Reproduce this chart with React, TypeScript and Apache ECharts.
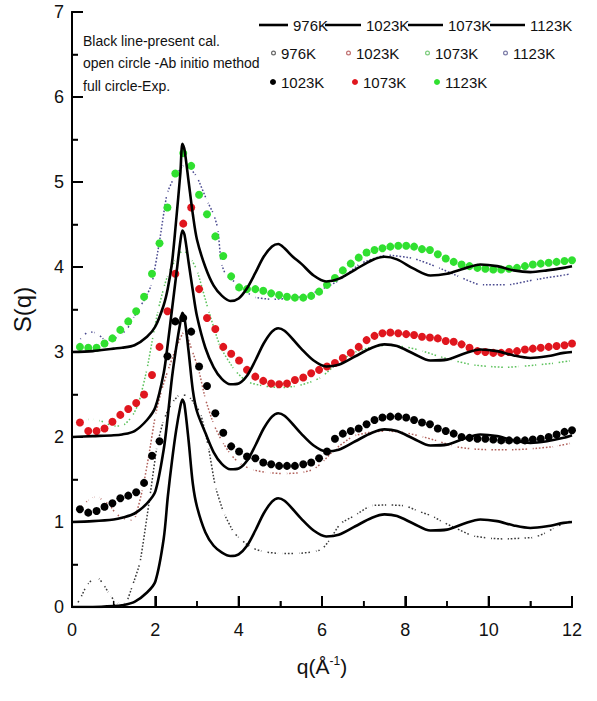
import React, { useEffect, useRef } from "react";
import * as echarts from "echarts";

// ---- calculated S(q) (black solid lines) ----
const qCalc = [0, 0.5, 1.0, 1.2, 1.5, 1.8, 2.0, 2.2, 2.3, 2.4, 2.5, 2.6, 2.65, 2.7, 2.8, 2.9, 3.0, 3.2, 3.4, 3.6, 3.8, 4.0, 4.2, 4.4, 4.6, 4.8, 4.95, 5.1, 5.3, 5.5, 5.8, 6.1, 6.4, 6.8, 7.2, 7.5, 7.8, 8.2, 8.6, 9.0, 9.4, 9.8, 10.2, 10.6, 11.0, 11.4, 11.8, 12.0];
const calc976 = [0, 0, 0.01, 0.02, 0.06, 0.17, 0.3, 0.8, 1.3, 1.72, 2.08, 2.36, 2.44, 2.38, 1.95, 1.45, 1.18, 0.88, 0.72, 0.64, 0.6, 0.62, 0.72, 0.9, 1.1, 1.24, 1.28, 1.25, 1.15, 1.04, 0.9, 0.83, 0.85, 0.95, 1.05, 1.09, 1.07, 0.98, 0.9, 0.91, 0.98, 1.03, 1.01, 0.96, 0.93, 0.95, 0.99, 1.0];
const calc1023 = [1.0, 1.01, 1.03, 1.05, 1.1, 1.22, 1.36, 1.85, 2.25, 2.7, 3.05, 3.35, 3.46, 3.4, 3.0, 2.55, 2.3, 2.05, 1.82, 1.68, 1.62, 1.63, 1.72, 1.9, 2.1, 2.24, 2.28, 2.25, 2.15, 2.04, 1.9, 1.83, 1.85, 1.95, 2.05, 2.09, 2.07, 1.98, 1.9, 1.91, 1.98, 2.03, 2.01, 1.96, 1.93, 1.95, 1.99, 2.02];
const calc1073 = [2.0, 2.01, 2.02, 2.03, 2.07, 2.2, 2.35, 2.75, 3.1, 3.5, 3.9, 4.3, 4.43, 4.38, 4.05, 3.72, 3.42, 3.05, 2.82, 2.68, 2.62, 2.63, 2.72, 2.9, 3.1, 3.24, 3.28, 3.25, 3.15, 3.04, 2.9, 2.83, 2.85, 2.95, 3.05, 3.09, 3.07, 2.98, 2.9, 2.91, 2.98, 3.03, 3.01, 2.96, 2.93, 2.95, 2.99, 3.0];
const calc1123 = [3.0, 3.01, 3.04, 3.05, 3.08, 3.18, 3.3, 3.55, 3.75, 4.05, 4.55, 5.1, 5.45, 5.38, 5.0, 4.62, 4.32, 4.0, 3.78, 3.66, 3.6, 3.63, 3.75, 3.93, 4.12, 4.24, 4.27, 4.22, 4.12, 4.04, 3.9, 3.83, 3.86, 3.97, 4.08, 4.12, 4.09, 3.98, 3.9, 3.92, 3.98, 4.03, 4.01, 3.96, 3.94, 3.96, 3.99, 4.01];

// ---- ab initio S(q) (open circles) ----
const qAi976 = [0.1, 0.2, 0.35, 0.5, 0.6, 0.75, 0.9, 1.05, 1.2, 1.31, 1.45, 1.63, 1.87, 2.04, 2.2, 2.4, 2.6, 2.8, 3.08, 3.27, 3.44, 3.64, 3.88, 4.04, 4.3, 4.6, 5.0, 5.4, 5.8, 6.0, 6.2, 6.44, 6.8, 7.16, 7.6, 8.0, 8.3, 8.64, 8.9, 9.2, 9.6, 10.0, 10.4, 10.8, 11.1, 11.4, 11.6, 11.8, 12.0];
const ai976 = [0.02, 0.1, 0.25, 0.33, 0.35, 0.27, 0.15, 0.06, 0.04, 0.06, 0.25, 0.52, 1.3, 1.89, 2.2, 2.4, 2.5, 2.48, 2.28, 1.89, 1.42, 1.11, 0.88, 0.8, 0.7, 0.65, 0.63, 0.63, 0.65, 0.68, 0.8, 0.98, 1.08, 1.19, 1.2, 1.19, 1.13, 1.07, 1.0, 0.93, 0.84, 0.81, 0.8, 0.81, 0.82, 0.88, 0.94, 0.98, 1.02];
const qAi1023 = [0.15, 0.3, 0.45, 0.6, 0.75, 0.9, 1.05, 1.2, 1.35, 1.5, 1.7, 1.85, 2.0, 2.15, 2.3, 2.5, 2.7, 2.88, 3.04, 3.2, 3.4, 3.6, 3.8, 4.0, 4.3, 4.7, 5.1, 5.5, 5.8, 6.0, 6.3, 6.75, 7.2, 7.56, 8.0, 8.36, 8.8, 9.16, 9.6, 10.0, 10.5, 11.0, 11.6, 12.0];
const ai1023 = [1.15, 1.22, 1.27, 1.3, 1.25, 1.2, 1.1, 1.05, 1.02, 1.03, 1.4, 1.8, 2.25, 2.55, 2.78, 3.05, 3.25, 3.02, 2.79, 2.45, 2.15, 1.95, 1.8, 1.7, 1.62, 1.58, 1.57, 1.58, 1.62, 1.7, 1.85, 2.01, 2.06, 2.07, 2.05, 2.01, 1.95, 1.89, 1.86, 1.85, 1.85, 1.86, 1.89, 1.93];
const qAi1073 = [0.15, 0.3, 0.45, 0.6, 0.8, 0.96, 1.2, 1.44, 1.6, 1.8, 1.95, 2.07, 2.2, 2.31, 2.5, 2.67, 2.85, 3.0, 3.27, 3.56, 3.9, 4.2, 4.6, 5.0, 5.4, 5.8, 6.0, 6.4, 6.75, 7.2, 7.56, 8.0, 8.36, 8.8, 9.16, 9.6, 10.0, 10.4, 10.77, 11.2, 11.6, 12.0];
const ai1073 = [2.18, 2.2, 2.21, 2.2, 2.17, 2.13, 2.13, 2.24, 2.4, 2.8, 3.2, 3.5, 3.75, 3.92, 4.1, 4.2, 4.1, 3.96, 3.5, 3.06, 2.79, 2.65, 2.6, 2.58, 2.6, 2.66, 2.71, 2.88, 2.99, 3.06, 3.08, 3.06, 3.02, 2.95, 2.9, 2.85, 2.83, 2.82, 2.83, 2.85, 2.87, 2.9];
const qAi1123 = [0.15, 0.25, 0.4, 0.6, 0.8, 1.0, 1.15, 1.31, 1.45, 1.63, 1.78, 1.92, 2.1, 2.28, 2.45, 2.72, 2.85, 3.0, 3.24, 3.4, 3.5, 3.58, 3.7, 3.95, 4.35, 4.8, 5.2, 5.6, 5.96, 6.44, 6.92, 7.56, 8.2, 8.76, 9.32, 9.8, 10.45, 11.1, 12.0];
const ai1123 = [3.12, 3.18, 3.24, 3.22, 3.14, 3.15, 3.2, 3.26, 3.38, 3.53, 3.65, 3.81, 4.3, 4.86, 5.05, 5.21, 5.15, 5.06, 4.78, 4.62, 4.45, 4.05, 3.9, 3.81, 3.65, 3.62, 3.63, 3.66, 3.73, 3.85, 4.04, 4.14, 4.1, 4.0, 3.88, 3.79, 3.79, 3.85, 3.92];

// ---- experimental S(q) (full circles) ----
const qExp = [0.19, 0.39, 0.59, 0.78, 0.97, 1.16, 1.35, 1.54, 1.73, 1.92, 2.1, 2.29, 2.48, 2.67, 2.86, 3.05, 3.24, 3.44, 3.63, 3.82, 4.01, 4.2, 4.4, 4.59, 4.78, 4.97, 5.16, 5.35, 5.55, 5.74, 5.93, 6.12, 6.31, 6.5, 6.69, 6.88, 7.07, 7.26, 7.45, 7.64, 7.83, 8.02, 8.21, 8.4, 8.59, 8.78, 8.97, 9.16, 9.35, 9.54, 9.73, 9.92, 10.11, 10.3, 10.49, 10.68, 10.87, 11.06, 11.25, 11.44, 11.63, 11.82, 12.0];
const exp1023 = [1.15, 1.11, 1.13, 1.18, 1.22, 1.28, 1.31, 1.35, 1.46, 1.78, 1.95, 2.95, 3.36, 3.4, 3.24, 2.83, 2.6, 2.28, 2.05, 1.89, 1.83, 1.77, 1.75, 1.7, 1.68, 1.66, 1.66, 1.66, 1.68, 1.7, 1.75, 1.83, 1.98, 2.04, 2.07, 2.1, 2.15, 2.2, 2.23, 2.24, 2.24, 2.23, 2.2, 2.17, 2.15, 2.1, 2.07, 2.04, 2.0, 1.99, 1.98, 1.98, 1.97, 1.96, 1.96, 1.96, 1.96, 1.97, 1.98, 2.0, 2.03, 2.06, 2.08];
const exp1073 = [2.17, 2.07, 2.07, 2.1, 2.18, 2.26, 2.33, 2.4, 2.5, 2.73, 3.06, 3.48, 3.92, 4.51, 4.7, 3.74, 3.4, 3.27, 3.06, 2.98, 2.9, 2.79, 2.71, 2.66, 2.63, 2.62, 2.63, 2.67, 2.7, 2.75, 2.79, 2.83, 2.87, 2.93, 2.99, 3.06, 3.14, 3.19, 3.22, 3.23, 3.22, 3.21, 3.2, 3.18, 3.17, 3.16, 3.13, 3.12, 3.09, 3.05, 3.01, 3.0, 2.99, 2.99, 3.0, 3.01, 3.03, 3.04, 3.05, 3.06, 3.07, 3.08, 3.1];
const exp1123 = [3.06, 3.05, 3.05, 3.1, 3.16, 3.26, 3.36, 3.48, 3.65, 3.92, 4.28, 4.7, 5.1, 5.34, 5.19, 4.85, 4.62, 4.36, 4.13, 3.89, 3.76, 3.74, 3.74, 3.72, 3.69, 3.67, 3.65, 3.64, 3.64, 3.66, 3.71, 3.79, 3.87, 3.96, 4.04, 4.11, 4.17, 4.2, 4.22, 4.24, 4.25, 4.25, 4.24, 4.21, 4.2, 4.15, 4.1, 4.06, 4.03, 4.01, 3.99, 3.98, 3.97, 3.97, 3.98, 3.99, 4.01, 4.03, 4.04, 4.05, 4.06, 4.07, 4.08];

// ---- tick values ----
const xTicks = [0, 2, 4, 6, 8, 10, 12];
const xMinorTicks = [1, 3, 5, 7, 9, 11];
const yTicks = [0, 1, 2, 3, 4, 5, 6, 7];
const yMinorTicks = [0.5, 1.5, 2.5, 3.5, 4.5, 5.5, 6.5];
const noteLines = ["Black line-present cal.", "open circle -Ab initio method", "full circle-Exp."];

const FONT = "'Liberation Sans', Arial, sans-serif";
const RING = "path://M0,5 A5,5 0 1,1 10,5 A5,5 0 1,1 0,5 Z M2.4,5 A2.6,2.6 0 1,0 7.6,5 A2.6,2.6 0 1,0 2.4,5 Z";

const zip = (xs: number[], ys: number[]) => xs.map((x, i) => [x, ys[i]]);

export default function App() {
  const ref = useRef<HTMLDivElement>(null);
  useEffect(() => {
    if (!ref.current) return;
    const chart = echarts.init(ref.current, null, { renderer: "svg" });

    const calcSeries = (name: string, ys: number[]) => ({
      name,
      type: "line",
      xAxisIndex: 0,
      yAxisIndex: 0,
      data: zip(qCalc, ys),
      smooth: 0.3,
      showSymbol: false,
      symbol: "none",
      color: "#000",
      lineStyle: { color: "#000", width: 2.6 },
      z: 5,
    });
    const aiSeries = (name: string, qs: number[], ys: number[], color: string) => ({
      name,
      type: "line",
      xAxisIndex: 0,
      yAxisIndex: 0,
      data: zip(qs, ys),
      smooth: 0.15,
      symbol: "emptyCircle",
      symbolSize: 3,
      showSymbol: true,
      color,
      itemStyle: { color: "#fff", borderColor: color, borderWidth: 0.9, opacity: 1 },
      lineStyle: { color, width: 1.5, type: [1.6, 1.8] },
      z: 3,
    });
    const expSeries = (name: string, ys: number[], color: string) => ({
      name,
      type: "scatter",
      xAxisIndex: 0,
      yAxisIndex: 0,
      data: zip(qExp, ys),
      symbol: "circle",
      symbolSize: 8,
      color,
      itemStyle: { color, opacity: 1 },
      z: 4,
    });
    // inward tick marks placed through the axes' own scales
    const tickSeries = (id: string, values: number[], horizontal: boolean, len: number, width: number) => ({
      id,
      type: "custom",
      xAxisIndex: 0,
      yAxisIndex: 0,
      silent: true,
      clip: false,
      z: 20,
      data: values.map((v) => (horizontal ? [v, yTicks[0]] : [xTicks[0], v])),
      renderItem: (_params: any, api: any) => {
        const p = api.coord([api.value(0), api.value(1)]);
        return {
          type: "line",
          shape: horizontal
            ? { x1: p[0], y1: p[1], x2: p[0], y2: p[1] - len }
            : { x1: p[0], y1: p[1], x2: p[0] + len, y2: p[1] },
          style: { stroke: "#000", lineWidth: width, fill: null },
        };
      },
    });

    const nameMap: Record<string, string> = {};
    const legendItem = (name: string, label: string, left: number, centerY: number, icon: string, w: number, h: number, gap: number, itemStyle: any) => {
      nameMap[name] = label;
      return {
        show: true,
        left,
        top: centerY - 8,
        padding: 0,
        orient: "horizontal",
        itemWidth: w,
        itemHeight: h,
        itemTextGap: gap,
        selectedMode: false,
        data: [{ name, icon, itemStyle }],
        formatter: (n: string) => nameMap[n],
        textStyle: { fontFamily: FONT, fontSize: 15, color: "#111", lineHeight: 16 },
      };
    };
    const lineIcon = { color: "#000", borderWidth: 0 };
    const fullIcon = (c: string) => ({ color: c, borderWidth: 0, opacity: 1 });

    const legends = [
      legendItem("c976", "976K", 259, 25, "rect", 29, 2.6, 1, lineIcon),
      legendItem("c1023", "1023K", 325, 25, "rect", 36, 2.6, 1, lineIcon),
      legendItem("c1073", "1073K", 408, 25, "rect", 35, 2.6, 1, lineIcon),
      legendItem("c1123", "1123K", 490, 25, "rect", 35, 2.6, 1, lineIcon),
      legendItem("a976", "976K", 271, 53, RING, 5, 5, 14, fullIcon("#666666")),
      legendItem("a1023", "1023K", 346, 53, RING, 5, 5, 16, fullIcon("#c07070")),
      legendItem("a1073", "1073K", 425, 53, RING, 5, 5, 18, fullIcon("#7ccc7c")),
      legendItem("a1123", "1123K", 503, 53, RING, 5, 5, 19, fullIcon("#7a7aa6")),
      legendItem("e1023", "1023K", 270, 82, "circle", 6, 7, 15, fullIcon("#000000")),
      legendItem("e1073", "1073K", 352, 82, "circle", 6, 7, 15, fullIcon("#e0161e")),
      legendItem("e1123", "1123K", 434, 82, "circle", 6, 7, 18, fullIcon("#30e030")),
    ];

    const frameAxis = (position: string, min: number, max: number) => ({
      type: "value",
      position,
      min,
      max,
      axisLine: { show: true, lineStyle: { color: "#000", width: 2 } },
      axisTick: { show: false },
      minorTick: { show: false },
      axisLabel: { show: false },
      splitLine: { show: false },
    });

    chart.setOption({
      animation: false,
      grid: { left: 72, right: 25, top: 12, bottom: 94 },
      legend: legends,
      xAxis: [
        {
          type: "value",
          position: "bottom",
          min: xTicks[0],
          max: xTicks[xTicks.length - 1],
          interval: 2,
          axisLine: { show: true, lineStyle: { color: "#000", width: 2 } },
          axisTick: { show: true, inside: true, length: 11, lineStyle: { color: "#000", width: 2 } },
          minorTick: { show: true, splitNumber: 2, length: 6, lineStyle: { color: "#000", width: 1.5 } },
          splitLine: { show: false },
          axisLabel: { fontFamily: FONT, fontSize: 18, color: "#111", margin: 14 },
          name: "{a|q(Å}{b|-1}{a|)}",
          nameLocation: "middle",
          nameGap: 48,
          nameTextStyle: {
            rich: {
              a: { fontFamily: FONT, fontSize: 21, color: "#111" },
              b: { fontFamily: FONT, fontSize: 12, color: "#111", verticalAlign: "top", padding: [0, 0, 10, 0] },
            },
          },
        },
        frameAxis("top", xTicks[0], xTicks[xTicks.length - 1]),
      ],
      yAxis: [
        {
          type: "value",
          position: "left",
          min: yTicks[0],
          max: yTicks[yTicks.length - 1],
          interval: 1,
          axisLine: { show: true, lineStyle: { color: "#000", width: 2 } },
          axisTick: { show: true, inside: true, length: 11, lineStyle: { color: "#000", width: 2 } },
          minorTick: { show: true, splitNumber: 2, length: 6, lineStyle: { color: "#000", width: 1.5 } },
          splitLine: { show: false },
          axisLabel: { fontFamily: FONT, fontSize: 18, color: "#111", margin: 8 },
          name: "S(q)",
          nameLocation: "middle",
          nameRotate: 90,
          nameGap: 38,
          nameTextStyle: { fontFamily: FONT, fontSize: 24, color: "#111" },
        },
        frameAxis("right", yTicks[0], yTicks[yTicks.length - 1]),
      ],
      graphic: noteLines.map((t, i) => ({
        type: "text",
        left: 83,
        top: [34, 56, 79][i],
        style: { text: t, fontFamily: FONT, fontSize: 14, fill: "#111" },
      })),
      series: [
        aiSeries("a976", qAi976, ai976, "#3a3a3a"),
        aiSeries("a1023", qAi1023, ai1023, "#b0605a"),
        aiSeries("a1073", qAi1073, ai1073, "#5cc25c"),
        aiSeries("a1123", qAi1123, ai1123, "#4a4a90"),
        expSeries("e1023", exp1023, "#000000"),
        expSeries("e1073", exp1073, "#e0161e"),
        expSeries("e1123", exp1123, "#30e030"),
        calcSeries("c976", calc976),
        calcSeries("c1023", calc1023),
        calcSeries("c1073", calc1073),
        calcSeries("c1123", calc1123),
        tickSeries("xMajorTicks", xTicks, true, 11, 2),
        tickSeries("xMinorTicks", xMinorTicks, true, 6, 1.5),
        tickSeries("yMajorTicks", yTicks, false, 11, 2),
        tickSeries("yMinorTicks", yMinorTicks, false, 6, 1.5),
      ],
    });
    return () => chart.dispose();
  }, []);
  return <div ref={ref} style={{ position: "fixed", left: 0, top: 0, width: 597, height: 701, background: "#fff" }} />;
}
